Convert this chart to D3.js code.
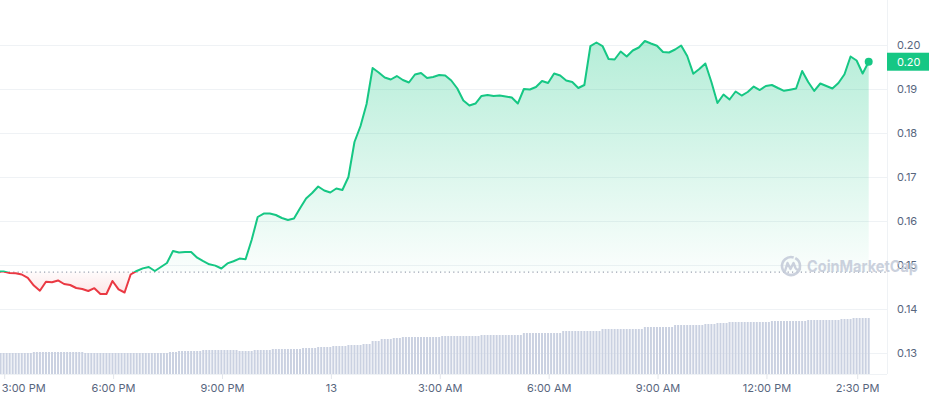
<!DOCTYPE html>
<html><head><meta charset="utf-8">
<script src="https://cdn.jsdelivr.net/npm/d3@7"></script>
<style>
body{margin:0;background:#fff;font-family:Inter,"Noto Sans",sans-serif;}
svg{display:block}
</style>
</head><body>
<svg id="chart" width="929" height="400"></svg>
<script>
// ---------- data ----------
const priceStart = "2024-03-12T14:49:00";
const priceStepMinutes = 10;
const prices = [
0.14848,0.14852,0.14818,0.14811,0.14784,0.14705,0.14534,0.14416,0.14618,0.14607,
0.14648,0.14568,0.14545,0.14477,0.14455,0.14409,0.14473,0.14341,0.14341,0.14636,
0.14445,0.14375,0.14784,0.14864,0.14923,0.14955,0.14864,0.14955,0.15045,0.15318,
0.15284,0.15295,0.15295,0.15166,0.15086,0.15016,0.14986,0.14920,0.15036,0.15086,
0.15145,0.15132,0.15568,0.16091,0.16170,0.16170,0.16136,0.16068,0.16023,0.16057,
0.16289,0.16511,0.16636,0.16784,0.16693,0.16648,0.16739,0.16705,0.17000,0.17795,
0.18159,0.18659,0.19477,0.19375,0.19261,0.19216,0.19295,0.19205,0.19148,0.19330,
0.19364,0.19250,0.19273,0.19318,0.19307,0.19193,0.19011,0.18739,0.18625,0.18670,
0.18841,0.18864,0.18841,0.18852,0.18830,0.18807,0.18670,0.19000,0.18989,0.19045,
0.19182,0.19136,0.19352,0.19307,0.19193,0.19159,0.19023,0.19091,0.19977,0.20057,
0.19977,0.19682,0.19670,0.19852,0.19739,0.19875,0.19943,0.20091,0.20034,0.19982,
0.19841,0.19830,0.19898,0.19989,0.19750,0.19348,0.19455,0.19580,0.19159,0.18682,
0.18875,0.18761,0.18943,0.18852,0.18932,0.19055,0.18977,0.19068,0.19091,0.19023,
0.18959,0.18984,0.19011,0.19409,0.19159,0.18955,0.19125,0.19068,0.19011,0.19136,
0.19336,0.19739,0.19648,0.19352,0.19620
];
const basePrice = 0.1484;
const volumeStart = "2024-03-12T14:54:00";
const volumeStepMinutes = 5;
const volumes = [
21,21,21,21,21,21,21,21,21,21,21,
22,22,22,22,22,22,22,22,22,22,22,22,22,22,22,22,22,
21,21,21,21,21,21,21,21,21,21,21,21,21,21,21,21,21,21,21,21,21,21,21,21,21,21,21,21,
22,22,22,
23,23,23,23,23,23,23,23,
24,24,24,24,24,24,24,24,24,24,24,24,
23,23,23,23,23,
24,24,24,24,24,24,
25,25,25,25,25,25,25,25,25,25,
26,26,26,26,26,
27,27,27,27,27,
28,28,28,28,28,
29,29,29,29,29,
30,30,30,
33,33,33,
35,35,35,35,
36,36,36,
37,37,37,37,37,37,37,37,37,37,37,37,37,
38,38,38,38,38,38,38,38,38,38,38,38,38,
39,39,39,39,39,39,39,39,39,39,39,39,39,39,
41,41,41,41,41,41,41,41,41,41,41,41,41,
43,43,43,43,43,43,43,43,43,43,43,43,43,
45,45,45,45,45,45,45,45,45,45,45,45,45,45,
47,47,47,47,47,47,47,47,47,47,
49,49,49,49,49,49,49,49,49,49,
50,50,50,50,
51,51,51,51,
52,52,52,52,52,52,52,52,52,52,52,52,52,52,
53,53,53,53,53,53,53,53,53,53,53,53,
54,54,54,54,54,54,54,54,54,54,54,
55,55,55,55,
56,56,56,56,56,56
];
const yTicks = [0.13,0.14,0.15,0.16,0.17,0.18,0.19,0.20];
const xTickTimes = ["2024-03-12T15:00","2024-03-12T18:00","2024-03-12T21:00","2024-03-13T00:00",
  "2024-03-13T03:00","2024-03-13T06:00","2024-03-13T09:00","2024-03-13T12:00","2024-03-13T14:30"];
const xTickLabels = ["3:00 PM","6:00 PM","9:00 PM","13","3:00 AM","6:00 AM","9:00 AM","12:00 PM","2:30 PM"];
const lastPriceLabel = "0.20";
const watermarkText = "CoinMarketCap";

// ---------- build series ----------
const t0 = new Date(priceStart);
const priceData = prices.map((p,i)=>({t:new Date(t0.getTime()+i*priceStepMinutes*60000), p}));
const v0 = new Date(volumeStart);
const volData = volumes.map((v,i)=>({t:new Date(v0.getTime()+i*volumeStepMinutes*60000), v}));

const W=929, H=400;
const plotRight = 887, plotBottom = 374;
const green="#16c784", red="#ea3943";

const svg = d3.select("#chart");
const x = d3.scaleTime()
  .domain([new Date("2024-03-12T15:00"), new Date("2024-03-13T14:30")])
  .range([4.2, 857.2]);
const y = d3.scaleLinear().domain([0.13,0.20]).range([353,45]);
const yv = d3.scaleLinear().domain([0,60]).range([plotBottom, plotBottom-60]);

const defs = svg.append("defs");
const yBase = y(basePrice);
defs.append("clipPath").attr("id","clipUp").append("rect")
  .attr("x",-10).attr("y",0).attr("width",plotRight+10).attr("height",yBase);
defs.append("clipPath").attr("id","clipDown").append("rect")
  .attr("x",-10).attr("y",yBase).attr("width",plotRight+10).attr("height",H-yBase);
const gG = defs.append("linearGradient").attr("id","gGreen")
  .attr("gradientUnits","userSpaceOnUse").attr("x1",0).attr("x2",0).attr("y1",40).attr("y2",yBase);
gG.append("stop").attr("offset",0).attr("stop-color",green).attr("stop-opacity",0.32);
gG.append("stop").attr("offset",1).attr("stop-color",green).attr("stop-opacity",0.02);
const gR = defs.append("linearGradient").attr("id","gRed")
  .attr("gradientUnits","userSpaceOnUse").attr("x1",0).attr("x2",0).attr("y1",yBase).attr("y2",300);
gR.append("stop").attr("offset",0).attr("stop-color",red).attr("stop-opacity",0.02);
gR.append("stop").attr("offset",1).attr("stop-color",red).attr("stop-opacity",0.16);

// gridlines + y axis
const yAxis = d3.axisRight(y).tickValues(yTicks).tickFormat(d3.format(".2f"))
  .tickSize(-plotRight).tickPadding(10);
const gy = svg.append("g").attr("transform",`translate(${plotRight},0)`).call(yAxis);
gy.select(".domain").remove();
gy.selectAll(".tick line").attr("stroke","#eff2f5").attr("stroke-width",1);
gy.selectAll(".tick text").attr("fill","#58667e").attr("font-size",11)
  .attr("font-family","Inter, 'Noto Sans', sans-serif");

// right border + bottom line
svg.append("line").attr("x1",plotRight+0.5).attr("x2",plotRight+0.5).attr("y1",0).attr("y2",plotBottom)
  .attr("stroke","#eff2f5");

// volume bars
svg.append("g").selectAll("rect").data(volData).join("rect")
  .attr("x",d=>x(d.t)-1).attr("width",2)
  .attr("y",d=>yv(d.v)).attr("height",d=>plotBottom-yv(d.v))
  .attr("fill","#cad1e1");

// x axis
const xAxis = d3.axisBottom(x).tickValues(xTickTimes.map(s=>new Date(s)))
  .tickFormat((d,i)=>xTickLabels[i]).tickSize(5).tickPadding(5);
const gx = svg.append("g").attr("transform",`translate(0,${plotBottom})`).call(xAxis);
gx.select(".domain").attr("d",`M0,0.5H${plotRight}`).attr("stroke","#eff2f5");
gx.selectAll(".tick line").attr("stroke","#e3e6eb");
gx.selectAll(".tick text").attr("fill","#58667e").attr("font-size",11)
  .attr("font-family","Inter, 'Noto Sans', sans-serif");
gx.selectAll(".tick").filter((d,i)=>i===0).select("text")
  .attr("text-anchor","start").attr("x",-3);

// areas
const area = d3.area().x(d=>x(d.t)).y0(yBase).y1(d=>y(d.p));
const line = d3.line().x(d=>x(d.t)).y(d=>y(d.p));
svg.append("path").datum(priceData).attr("d",area).attr("fill","url(#gGreen)").attr("clip-path","url(#clipUp)");
svg.append("path").datum(priceData).attr("d",area).attr("fill","url(#gRed)").attr("clip-path","url(#clipDown)");

// baseline dotted
svg.append("line").attr("x1",0).attr("x2",plotRight).attr("y1",yBase).attr("y2",yBase)
  .attr("stroke","#9aa2b1").attr("stroke-width",1.2).attr("stroke-dasharray","1.2,3.2");

// lines
svg.append("path").datum(priceData).attr("d",line).attr("fill","none").attr("stroke",green)
  .attr("stroke-width",2).attr("stroke-linejoin","round").attr("clip-path","url(#clipUp)");
svg.append("path").datum(priceData).attr("d",line).attr("fill","none").attr("stroke",red)
  .attr("stroke-width",2).attr("stroke-linejoin","round").attr("clip-path","url(#clipDown)");

// last point
const last = priceData[priceData.length-1];
svg.append("circle").attr("cx",x(last.t)).attr("cy",y(last.p)).attr("r",4).attr("fill",green);
svg.append("rect").attr("x",plotRight).attr("y",y(last.p)-9).attr("width",W-plotRight).attr("height",18)
  .attr("fill",green);
svg.append("text").attr("x",plotRight+10).attr("y",y(last.p)).attr("dy","0.35em")
  .attr("fill","#fff").attr("font-size",11).text(lastPriceLabel);

// watermark
const wm = svg.append("g").attr("transform","translate(791,266)").attr("opacity",0.85);
wm.append("path").attr("d",d3.arc()({innerRadius:9,outerRadius:9,startAngle:0.5,endAngle:2*Math.PI+0.3}))
  .attr("fill","none").attr("stroke","#c3cad8").attr("stroke-width",2.6);
wm.append("path").attr("d","M-6,5 L-3.5,-3 L-0.5,3 L2.5,-3 L4.5,2 Q6,5 9,3")
  .attr("fill","none").attr("stroke","#c3cad8").attr("stroke-width",2.4)
  .attr("stroke-linejoin","round").attr("stroke-linecap","round");
svg.append("text").attr("x",807).attr("y",272).attr("font-size",16).attr("font-weight",700)
  .attr("fill","#c3cad8").attr("opacity",0.85).attr("textLength",111).attr("lengthAdjust","spacingAndGlyphs")
  .text(watermarkText);
</script>
</body></html>
